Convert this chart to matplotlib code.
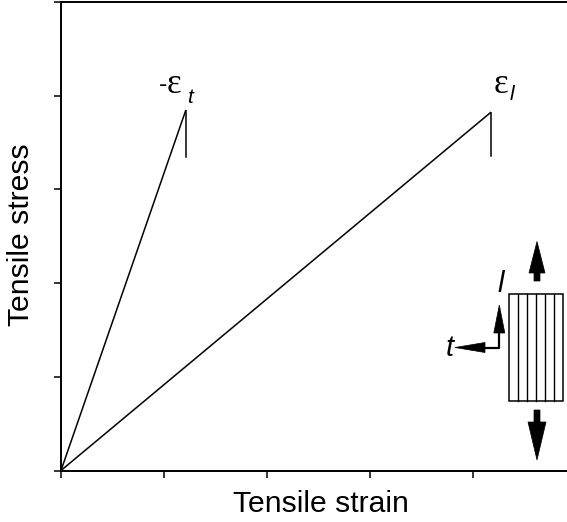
import matplotlib
matplotlib.use("Agg")
import matplotlib.pyplot as plt
from matplotlib.patches import Polygon, Rectangle
from matplotlib.lines import Line2D

# stress-strain data (arbitrary units)
strain_t = [0.0, 1.21]
stress_t = [0.0, 3.84]
strain_l = [0.0, 4.17]
stress_l = [0.0, 3.82]
fail_t = [3.84, 3.35]
fail_l = [3.82, 3.36]
xticks = [0, 1, 2, 3, 4]
yticks = [0, 1, 2, 3, 4, 5]

W, H = 567, 522
plt.rcParams["font.family"] = ["Liberation Sans", "DejaVu Sans"]

fig = plt.figure(figsize=(W / 100, H / 100), dpi=100)
ax = fig.add_axes([61 / W, 1 - 470.5 / H, (W - 61) / W, (470.5 - 2) / H])

ax.plot(strain_t, stress_t, color="black", lw=1.1)
ax.plot(strain_l, stress_l, color="black", lw=1.1)
ax.plot([strain_t[1]] * 2, fail_t, color="black", lw=1.1)
ax.plot([strain_l[1]] * 2, fail_l, color="black", lw=1.1)

ax.set_xlim(0, (W - 61) / 103)
ax.set_ylim(0, 5)
ax.set_xticks(xticks)
ax.set_yticks(yticks)
ax.set_xticklabels([])
ax.set_yticklabels([])
ax.tick_params(direction="out", length=4.8, width=1.1)
ax.spines["right"].set_visible(False)
for s in ("left", "bottom", "top"):
    ax.spines[s].set_linewidth(1.4)

# failure labels
ax.annotate("-", xy=(strain_t[1], stress_t[1]), xytext=(-27, 19), textcoords="offset pixels",
            fontsize=18, ha="left", va="baseline")
ax.annotate("ε", xy=(strain_t[1], stress_t[1]), xytext=(-19, 18), textcoords="offset pixels",
            fontsize=25, family="Liberation Serif", ha="left", va="baseline")
ax.annotate("t", xy=(strain_t[1], stress_t[1]), xytext=(1, 8), textcoords="offset pixels",
            fontsize=15, style="italic", ha="left", va="baseline")
ax.annotate("ε", xy=(strain_l[1], stress_l[1]), xytext=(3, 20), textcoords="offset pixels",
            fontsize=25, family="Liberation Serif", ha="left", va="baseline")
ax.annotate("l", xy=(strain_l[1], stress_l[1]), xytext=(19, 13), textcoords="offset pixels",
            fontsize=15, style="italic", ha="left", va="baseline")

fig.text(321 / W, 1 - 511.7 / H, "Tensile strain", fontsize=21.7, ha="center", va="baseline")
fig.text(35 / W, 1 - 235 / H, "Tensile stress", fontsize=21.7, rotation=90,
         ha="right", va="center")


# specimen sketch, in image pixel coordinates
def px(x, y):
    return (x / W, 1 - y / H)


def arrow(cx, y0, y1, yb, hw, sw):
    # vertical block arrow: shaft from y0 to yb, head from yb to tip y1
    pts = [px(cx - sw / 2, y0), px(cx - sw / 2, yb), px(cx - hw, yb), px(cx, y1),
           px(cx + hw, yb), px(cx + sw / 2, yb), px(cx + sw / 2, y0)]
    fig.patches.append(Polygon(pts, closed=True, facecolor="black", edgecolor="black",
                               lw=0.5, transform=fig.transFigure))


rx0, rx1, ry0, ry1 = 509.3, 562.7, 294, 400.7
x0, y0 = px(rx0, ry1)
x1, y1 = px(rx1, ry0)
fig.patches.append(Rectangle((x0, y0), x1 - x0, y1 - y0, fill=False, edgecolor="black",
                             lw=1.1, transform=fig.transFigure))
for i in range(1, 6):
    xx = rx0 + i * (rx1 - rx0) / 6
    a, b = px(xx, ry0), px(xx, ry1)
    fig.lines.append(Line2D([a[0], b[0]], [a[1], b[1]], color="black", lw=1.0,
                            transform=fig.transFigure))

arrow(537, 281, 241.5, 273, 8, 6)
arrow(537, 410, 460, 422, 9, 6)

# small l/t axes
cx, cy = 499.3, 347.5
a, b, c = px(cx, 333), px(cx, cy), px(485, cy)
fig.lines.append(Line2D([a[0], b[0], c[0]], [a[1], b[1], c[1]], color="black", lw=1.6,
                        transform=fig.transFigure))
fig.patches.append(Polygon([px(cx - 5.5, 333), px(cx, 305), px(cx + 5.5, 333)], closed=True,
                           facecolor="black", edgecolor="black", lw=0.5, transform=fig.transFigure))
fig.patches.append(Polygon([px(485, cy - 5), px(455, cy), px(485, cy + 5)], closed=True,
                           facecolor="black", edgecolor="black", lw=0.5, transform=fig.transFigure))
fig.text(*px(501, 284), "l", fontsize=21, style="italic", ha="center", va="center")
fig.text(*px(450, 348), "t", fontsize=21, style="italic", ha="center", va="center")

fig.savefig("out.png", dpi=100)
